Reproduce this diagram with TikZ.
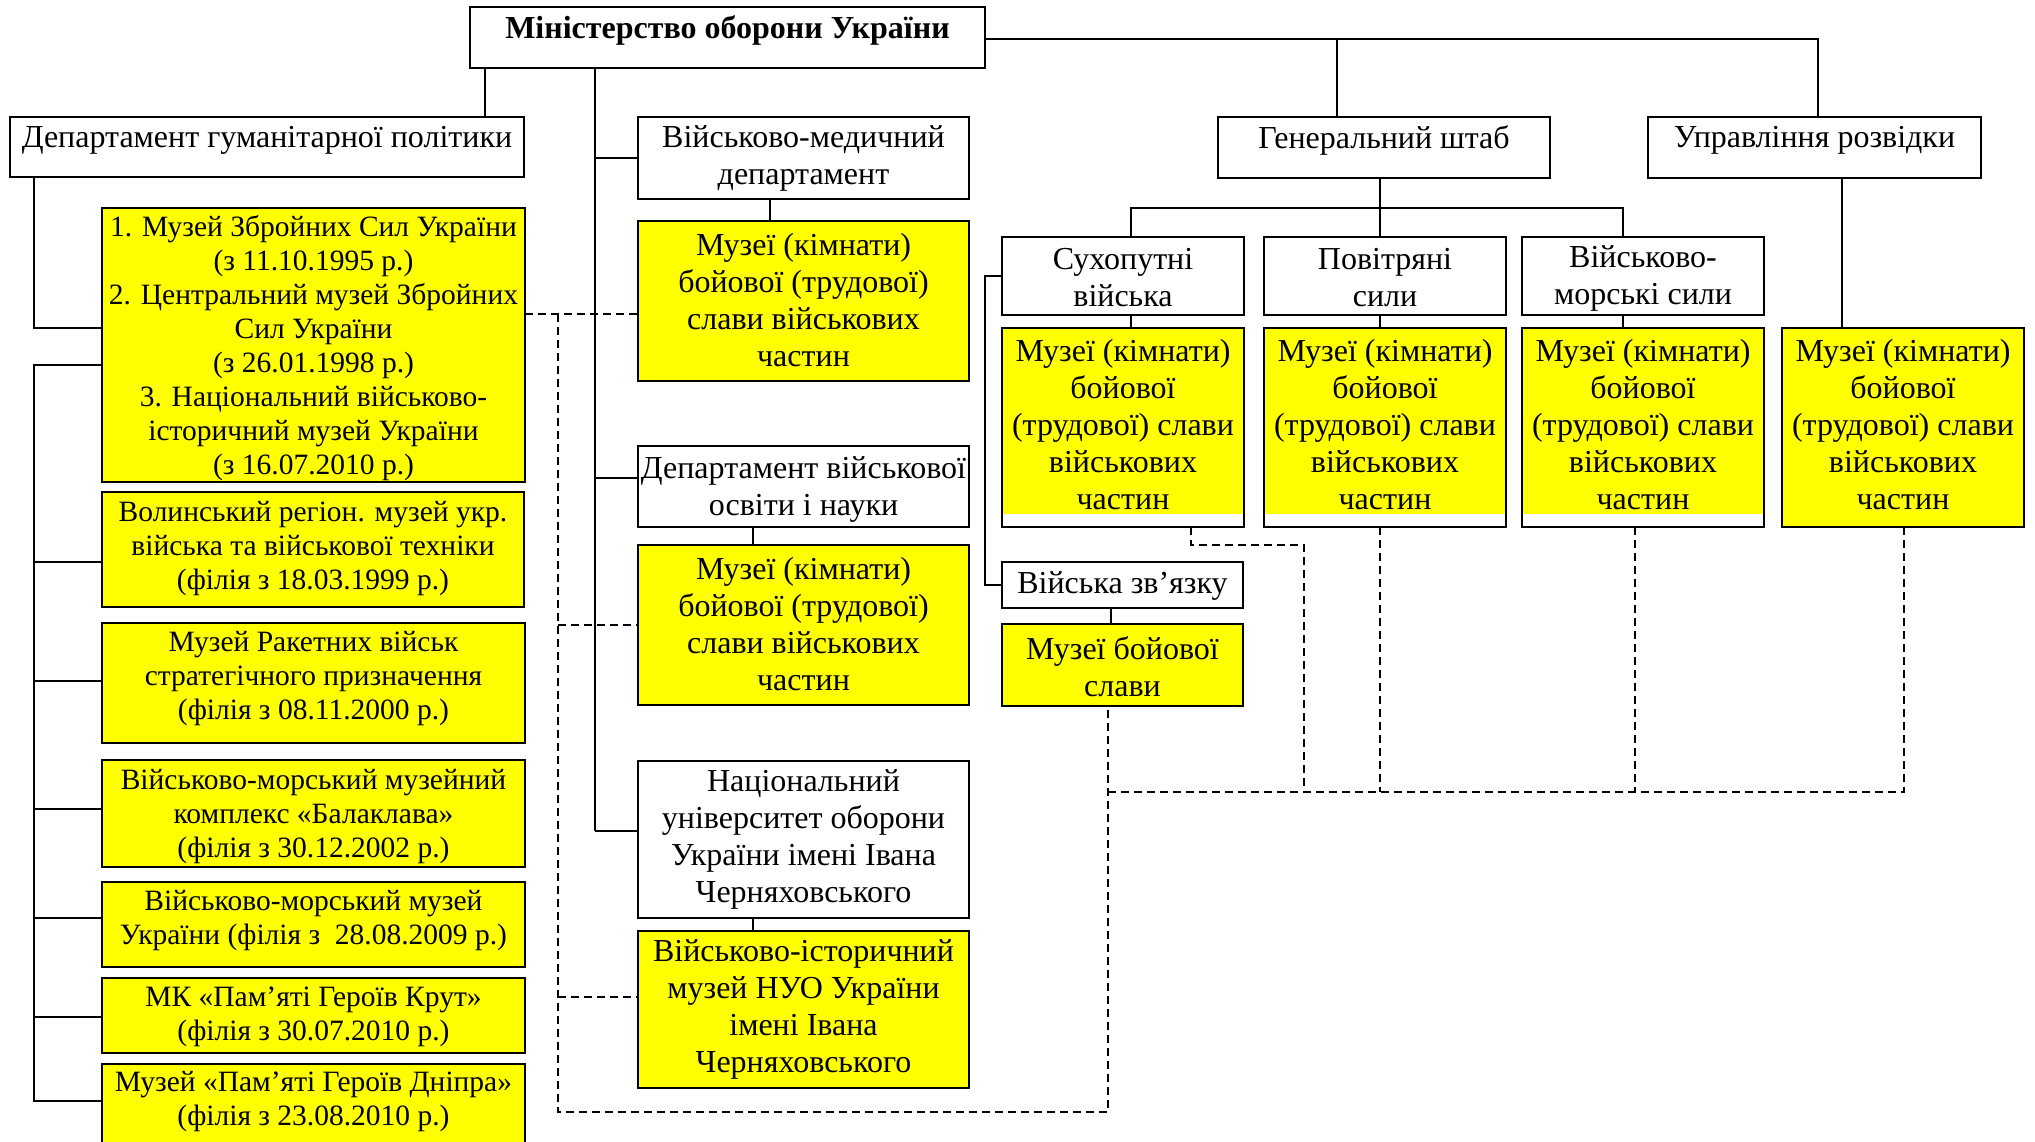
\documentclass[tikz,border=0pt]{standalone}
\usepackage{fontspec}
\setmainfont{Liberation Serif}
\definecolor{yel}{RGB}{255,255,0}
\newcommand\fa{\fontsize{32}{37}\selectfont}
\newcommand\fb{\fontsize{29.5}{34}\selectfont}
\newcommand\bx[8]{%
  \node[#6, minimum width={#4-#2}, minimum height={#5-#3}] (#1) at ({(#2+#4)/2},{(#3+#5)/2})
   {\parbox[c][\dimexpr#5pt-#3pt\relax][c]{\dimexpr#4pt-#2pt\relax}{\centering #8\par\vspace*{#7pt}}};}
\tikzset{
  box/.style={draw, line width=2.4pt, inner sep=0pt, outer sep=0pt, fill=white},
  ybox/.style={box, fill=yel},
  hbox/.style={box, path picture={\fill[yel] (path picture bounding box.north west) rectangle ([yshift=13pt]path picture bounding box.south east);}},
  conn/.style={line width=2pt},
  dashconn/.style={line width=2pt, dash pattern=on 8pt off 5pt}
}
\begin{document}
\begin{tikzpicture}[x=1pt,y=-1pt]
\useasboundingbox (0,0) rectangle (2035,1142);
\fill[white] (0,0) rectangle (2035,1142);
\clip (0,0) rectangle (2035,1142);
% top
\bx{min}{470}{7}{985}{68}{box}{14}{\fontsize{32}{37}\selectfont\bfseries Міністерство оборони України}
\bx{hd}{10}{117}{524}{177}{box}{14}{\fa Департамент гуманітарної політики}
\bx{med}{638}{117}{969}{199}{box}{0}{\fa Військово-медичний\\департамент}
\bx{mm1}{638}{221}{969}{381}{ybox}{2}{\fa Музеї (кімнати)\\бойової (трудової)\\слави військових\\частин}
\bx{edu}{638}{446}{969}{527}{box}{-6}{\fa Департамент військової\\освіти і науки}
\bx{mm2}{638}{545}{969}{705}{ybox}{2}{\fa Музеї (кімнати)\\бойової (трудової)\\слави військових\\частин}
\bx{nuo}{638}{761}{969}{918}{box}{0}{\fa Національний\\університет оборони\\України імені Івана\\Черняховського}
\bx{mm3}{638}{931}{969}{1088}{ybox}{0}{\fa Військово-історичний\\музей НУО України\\імені Івана\\Черняховського}
\bx{gs}{1218}{117}{1550}{178}{box}{14}{\fa Генеральний штаб}
\bx{intel}{1648}{117}{1981}{178}{box}{14}{\fa Управління розвідки}
\bx{sv}{1002}{237}{1244}{315}{box}{-4}{\fa Сухопутні\\війська}
\bx{ps}{1264}{237}{1506}{315}{box}{-4}{\fa Повітряні\\сили}
\bx{vms}{1522}{237}{1764}{315}{box}{-4}{\fa Військово-\\морські сили}
\bx{msv}{1002}{328}{1244}{527}{hbox}{6}{\fa Музеї (кімнати)\\бойової\\(трудової) слави\\військових\\частин}
\bx{mps}{1264}{328}{1506}{527}{hbox}{6}{\fa Музеї (кімнати)\\бойової\\(трудової) слави\\військових\\частин}
\bx{mvms}{1522}{328}{1764}{527}{hbox}{6}{\fa Музеї (кімнати)\\бойової\\(трудової) слави\\військових\\частин}
\bx{mint}{1782}{328}{2024}{527}{ybox}{6}{\fa Музеї (кімнати)\\бойової\\(трудової) слави\\військових\\частин}
\bx{zv}{1002}{562}{1243}{608}{box}{-2}{\fa Війська зв’язку}
\bx{mzv}{1002}{624}{1243}{706}{ybox}{-4}{\fa Музеї бойової\\слави}
% left column
\bx{b1}{102}{208}{525}{482}{ybox}{-6}{\fb 1. Музей Збройних Сил України\\(з 11.10.1995 р.)\\2. Центральний музей Збройних\\Сил України\\(з 26.01.1998 р.)\\3. Національний військово-\\історичний музей України\\(з 16.07.2010 р.)}
\bx{b2}{102}{492}{524}{607}{ybox}{2}{\fb Волинський регіон. музей укр.\\війська та військової техніки\\(філія з 18.03.1999 р.)}
\bx{b3}{102}{623}{525}{743}{ybox}{8}{\fb Музей Ракетних військ\\стратегічного призначення\\(філія з 08.11.2000 р.)}
\bx{b4}{102}{760}{525}{867}{ybox}{-6}{\fb Військово-морський музейний\\комплекс «Балаклава»\\(філія з 30.12.2002 р.)}
\bx{b5}{102}{882}{525}{967}{ybox}{8}{\fb Військово-морський музей\\України (філія з\ \ 28.08.2009 р.)}
\bx{b6}{102}{978}{525}{1053}{ybox}{-2}{\fb МК «Пам’яті Героїв Крут»\\(філія з 30.07.2010 р.)}
\bx{b7}{102}{1064}{525}{1150}{ybox}{10}{\fb Музей «Пам’яті Героїв Дніпра»\\(філія з 23.08.2010 р.)}
% coordinates
\coordinate (xh) at (485,0);
\coordinate (sp) at (595,0);
\coordinate (n2) at (595,478);
\coordinate (n3) at (595,831);
\coordinate (c770) at (770,0);
\coordinate (c753) at (753,0);
\coordinate (L1) at (34,328);
\coordinate (L2) at (34,365);
\coordinate (t2) at (34,562);
\coordinate (t3) at (34,681);
\coordinate (t4) at (34,809);
\coordinate (t5) at (34,918);
\coordinate (t6) at (34,1017);
\coordinate (t7) at (34,1101);
\coordinate (r1) at (1818,39);
\coordinate (g1) at (1337,39);
\coordinate (g2) at (1380,208);
\coordinate (g3) at (1131,208);
\coordinate (g4) at (1623,208);
\coordinate (i1) at (1842,0);
\coordinate (k1) at (985,276);
\coordinate (k2) at (985,585);
\coordinate (z1) at (1111,0);
\coordinate (d0) at (558,314);
\coordinate (d1) at (558,1112);
\coordinate (d2) at (1108,1112);
\coordinate (d3) at (1108,792);
\coordinate (d4) at (1904,792);
\coordinate (d5) at (558,997);
\coordinate (e1) at (1191,545);
\coordinate (e2) at (1304,545);
\coordinate (f1) at (1380,0);
\coordinate (f2) at (1635,0);
% solid connectors
\draw[conn] (min.south -| xh) -- (hd.north -| xh);
\draw[conn] (min.south -| sp) -- (n3);
\draw[conn] (sp |- med.west) -- (med.west);
\draw[conn] (n2) -- (n2 -| edu.west);
\draw[conn] (n3) -- (n3 -| nuo.west);
\draw[conn] (med.south -| c770) -- (mm1.north -| c770);
\draw[conn] (edu.south -| c753) -- (mm2.north -| c753);
\draw[conn] (nuo.south -| c753) -- (mm3.north -| c753);
\draw[conn] (hd.south -| L1) -- (L1) -- (L1 -| b1.west);
\draw[conn] (L2 -| b1.west) -- (L2) -- (t7) -- (t7 -| b7.west);
\draw[conn] (t2) -- (t2 -| b2.west);
\draw[conn] (t3) -- (t3 -| b3.west);
\draw[conn] (t4) -- (t4 -| b4.west);
\draw[conn] (t5) -- (t5 -| b5.west);
\draw[conn] (t6) -- (t6 -| b6.west);
\draw[conn] (min.east |- r1) -- (r1) -- (r1 |- intel.north);
\draw[conn] (g1) -- (g1 |- gs.north);
\draw[conn] (gs.south -| g2) -- (ps.north -| g2);
\draw[conn] (sv.north -| g3) -- (g3) -- (g4) -- (vms.north -| g4);
\draw[conn] (sv.south -| g3) -- (msv.north -| g3);
\draw[conn] (ps.south -| g2) -- (mps.north -| g2);
\draw[conn] (vms.south -| g4) -- (mvms.north -| g4);
\draw[conn] (intel.south -| i1) -- (mint.north -| i1);
\draw[conn] (sv.west |- k1) -- (k1) -- (k2) -- (zv.west |- k2);
\draw[conn] (zv.south -| z1) -- (mzv.north -| z1);
% dashed connectors
\draw[dashconn] (b1.east |- d0) -- (mm1.west |- d0);
\draw[dashconn] (d0) -- (d1) -- (d2) -- (mzv.south -| d2);
\draw[dashconn] (d0 |- mm2.west) -- (mm2.west);
\draw[dashconn] (d5) -- (d5 -| mm3.west);
\draw[dashconn] (d3) -- (d4) -- (mint.south -| d4);
\draw[dashconn] (msv.south -| e1) -- (e1) -- (e2) -- (e2 |- d3);
\draw[dashconn] (mps.south -| f1) -- (f1 |- d3);
\draw[dashconn] (mvms.south -| f2) -- (f2 |- d3);
\end{tikzpicture}
\end{document}
